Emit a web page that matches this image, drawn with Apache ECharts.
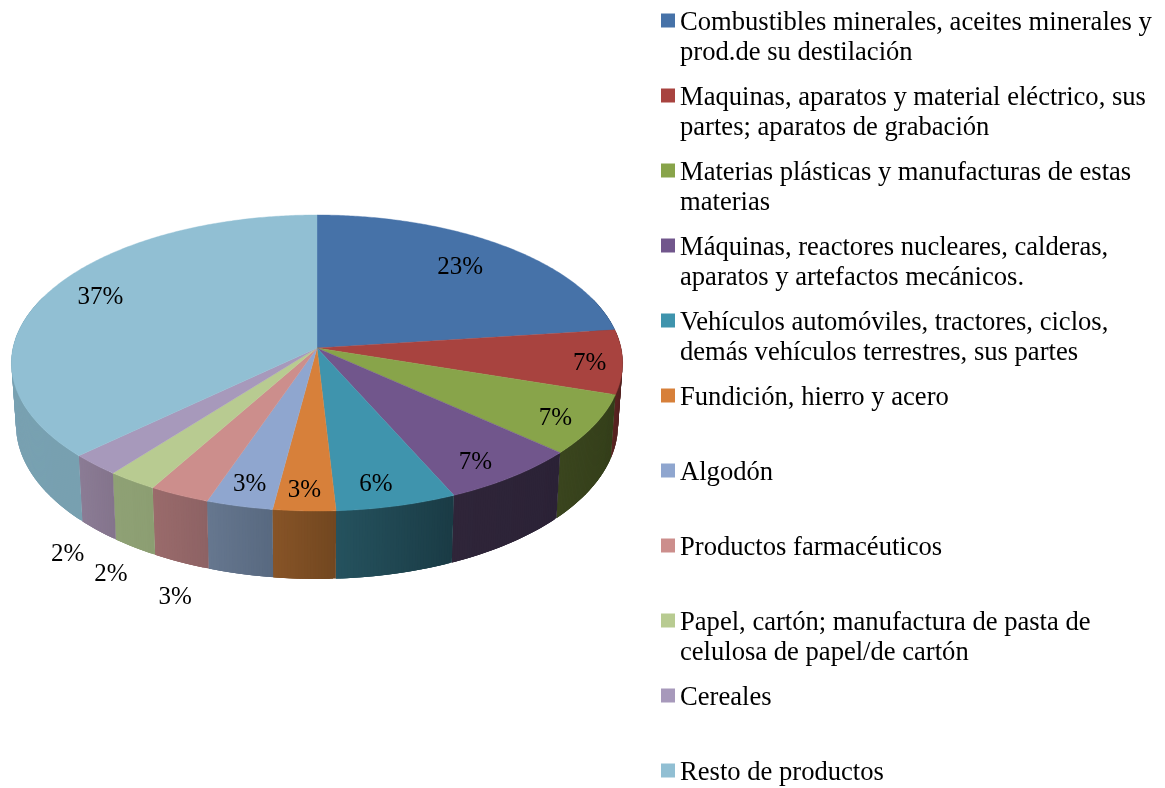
<!DOCTYPE html>
<html>
<head>
<meta charset="utf-8">
<style>html,body{margin:0;padding:0;background:#fff}#c{width:1165px;height:788px}</style>
<script src="https://cdn.jsdelivr.net/npm/echarts@6/dist/echarts.min.js"></script>
</head>
<body>
<div id="c"></div>
<script>
var categories = [
  'Combustibles minerales, aceites minerales y\nprod.de su destilación',
  'Maquinas, aparatos y material eléctrico, sus\npartes; aparatos de grabación',
  'Materias plásticas y manufacturas de estas\nmaterias',
  'Máquinas, reactores nucleares, calderas,\naparatos y artefactos mecánicos.',
  'Vehículos automóviles, tractores, ciclos,\ndemás vehículos terrestres, sus partes',
  'Fundición, hierro y acero',
  'Algodón',
  'Productos farmacéuticos',
  'Papel, cartón; manufactura de pasta de\ncelulosa de papel/de cartón',
  'Cereales',
  'Resto de productos'
];
var values = [23, 7, 6.6, 6.7, 5.8, 3, 3.2, 2.9, 2.4, 2.4, 37];
var topColors = ['#4672a8','#a8433f','#88a44a','#71568c','#3f94ad','#d7803a','#8fa6cf','#cc8e8c','#b8cb91','#a799bb','#91bfd3'];
// wall shade at the slice's left and right ends as seen on screen
var wallLeft  = ['#2c4868','#5a2422','#3a451e','#2f2539','#25525e','#875427','#66778f','#9a6b6b','#8fa175','#8b7c95','#7aa3b4'];
var wallRight = ['#2c4868','#421a1a','#343e1a','#2b2236','#1a3b45','#724720','#586980','#8d6264','#8c9e72','#84748c','#78a0b0'];
// label placement on the disc: radius factor, angle shift (deg) from the slice's mid angle
var labelRadius = [0.770,0.890,0.872,0.863,0.862,0.878,0.872,1.5,1.458,1.422,0.829];
var labelShift  = [-1.3,0.7,1.4,2.4,2.0,0.5,0.3,-8.8,-10,-12,3];

var CX = 317, CY = 348, RA = 304, RB = 146.5, PERSP = 0.1014, DEPTH = 61, BOTTOM_SHRINK = 0.985;
var total = values.reduce(function (a, b) { return a + b; }, 0);
var starts = []; (function () { var c = 0; values.forEach(function (v) { starts.push(c); c += v; }); })();

function proj(r, deg, lower) {
  var t = deg * Math.PI / 180, u = r * Math.sin(t), v = -r * Math.cos(t), d = 1 - PERSP * v;
  var x = RA * u / d * (lower ? BOTTOM_SHRINK : 1);
  var y = RB * v / d + (lower ? DEPTH / d : 0);
  return [CX + x, CY + y];
}
function arc(a0, a1, lower) {
  var pts = [], n = Math.max(2, Math.ceil((a1 - a0) / 0.5));
  for (var i = 0; i <= n; i++) pts.push(proj(1, a0 + (a1 - a0) * i / n, lower));
  return pts;
}
function makeRender(i) {
  return function (params, api) {
    var val = api.value(0);
    var a0 = starts[i] / total * 360, a1 = a0 + val / total * 360, mid = (a0 + a1) / 2;
    var top = arc(a0, a1, false), bot = arc(a0, a1, true);
    var lp = proj(labelRadius[i], mid + labelShift[i], false);
    var children = [];
    // the side wall, as overlapping strips so its silhouette joins the top and bottom rims
    var last = top.length - 1;
    for (var k = 0; k < last; k++) {
      var am = a0 + (a1 - a0) * (k + 0.5) / last;
      if (Math.cos(am * Math.PI / 180) > 0.35) continue;
      var visStart = Math.max(a0, i === 0 ? 60 : a0), visEnd = Math.min(a1, i === categories.length - 1 ? 300 : a1);
      var t = Math.min(1, Math.max(0, (am - visStart) / (visEnd - visStart)));
      var col = echarts.color.lerp(1 - t, [wallLeft[i], wallRight[i]]);
      var e = Math.min(last, k + 3);
      children.push({ type: 'polygon', z2: 1, silent: true,
        shape: { points: [top[k], top[e], bot[e], bot[k]] },
        style: { fill: col } });
    }
    children.push({ type: 'polygon', z2: 10, shape: { points: [[CX, CY]].concat(top) },
      style: { fill: topColors[i], stroke: topColors[i], lineWidth: 0.4 } });
    children.push({ type: 'text', z2: 20, style: { x: lp[0] + 1, y: lp[1] + 1, text: Math.round(val) + '%',
      fill: '#000', font: '25px "Liberation Serif"', align: 'center', verticalAlign: 'middle' } });
    return { type: 'group', children: children };
  };
}
var chart = echarts.init(document.getElementById('c'), null, { renderer: 'canvas' });
chart.setOption({
  animation: false,
  backgroundColor: '#fff',
  legend: {
    orient: 'vertical', left: 661, top: -23, height: 1000, padding: 0, itemWidth: 14, itemHeight: 14, itemGap: -15,
    selectedMode: false,
    data: categories.map(function (n, i) {
      return { name: n, icon: 'rect', itemStyle: { color: topColors[i] } };
    }),
    formatter: function (n) {
      var lines = n.split('\n');
      if (lines.length < 2) lines.push(' ');
      return '{b| }\n{t|' + lines[0] + '}\n{t|' + lines[1] + '}';
    },
    textStyle: {
      fontFamily: 'Liberation Serif', fontSize: 26.6, color: '#000',
      rich: {
        b: { lineHeight: 36, fontSize: 26.6, fontFamily: 'Liberation Serif' },
        t: { lineHeight: 30, fontSize: 26.6, fontFamily: 'Liberation Serif', color: '#000' }
      }
    }
  },
  series: categories.map(function (n, i) {
    return { type: 'custom', name: n, coordinateSystem: 'none', silent: true,
      itemStyle: { color: topColors[i] }, data: [[values[i]]], renderItem: makeRender(i) };
  })
});
</script>
</body>
</html>
